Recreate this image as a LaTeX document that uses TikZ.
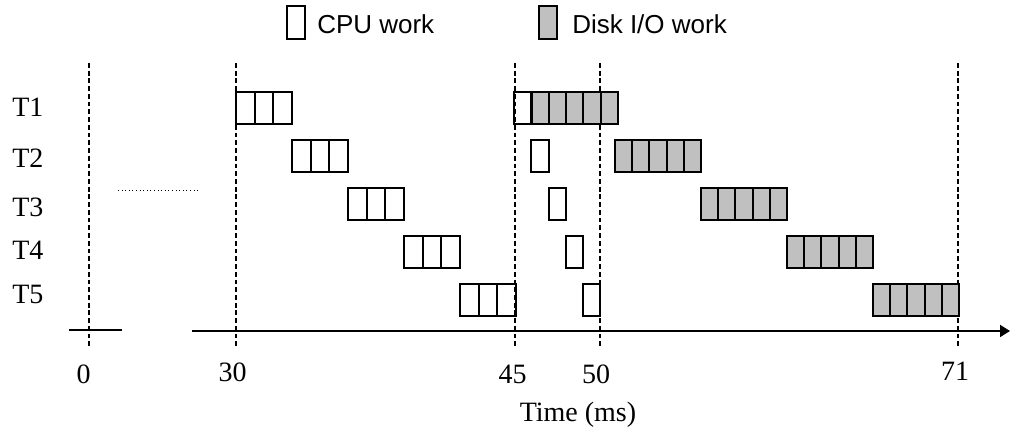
\documentclass[tikz,border=0pt]{standalone}
\usepackage{fontspec}
\setmainfont{Liberation Serif}
\newfontfamily\keyfont{Liberation Sans}
\usetikzlibrary{arrows.meta}
\definecolor{diskgray}{RGB}{192,192,192}

\tikzstyle{cpubox} = [draw, line width = 1.5pt, minimum width = 14pt, minimum height = 24.4pt, inner sep = 0pt, outer sep = 0pt, anchor = west]
\tikzstyle{diskbox} = [cpubox, fill = diskgray, minimum width = 12.9pt]
\tikzstyle{timeline} = [line width = 1.2pt, dash pattern = on 3.6pt off 2.2pt]
\tikzstyle{lbl} = [inner sep = 0pt, font = \fontsize{21}{25}\selectfont]
\tikzstyle{keylbl} = [inner sep = 0pt, anchor = west, font = \keyfont\fontsize{19.5}{23}\selectfont]

\begin{document}
\begin{tikzpicture}[x = 0.75pt, y = -0.75pt]
		\useasboundingbox (0, 0) rectangle (1010, 435);

		% legend
		\node [cpubox, anchor = center, minimum width = 13.5pt, minimum height = 24.8pt] at (296, 22.5) (keycpu) {};
		\node [keylbl] at (317, 24) (keycputxt) {CPU work};
		\node [diskbox, anchor = center, minimum width = 13.5pt, minimum height = 24.8pt] at (548, 22.5) (keydisk) {};
		\node [keylbl] at (572, 24) (keydisktxt) {Disk I/O work};

		% task labels
		\foreach \n/\ly in {1/107, 2/158, 3/207, 4/250, 5/294}
			\node [lbl, anchor = west] at (12, \ly) (t\n) {T\n};

		% time marks
		\foreach \nm/\vx in {0/89, 30/236, 45/515, 50/600, 71/958} {
			\coordinate (top\nm) at (\vx, 63);
			\coordinate (bot\nm) at (\vx, 347);
			\draw [timeline] (top\nm) -- (bot\nm);
		}
		\foreach \nm/\lx/\by in {0/83.5/383, 30/232.5/381, 45/512.5/383, 50/596/383, 71/955/380}
			\node [lbl, anchor = base] at (\lx, \by) (n\nm) {\nm};
		\node [lbl, anchor = base] at (578, 421) (tlabel) {Time (ms)};

		% work blocks
		\foreach \i in {0,...,4} {
			\pgfmathsetmacro{\rowy}{108 + 48*\i}
			\pgfmathsetmacro{\cpux}{236 + 56*\i}
			\pgfmathsetmacro{\onex}{514 + 17.3*\i}
			\pgfmathsetmacro{\dskx}{\i == 0 ? 531.7 : 615 + 86*(\i - 1)}
			\foreach \j in {0,1,2}
				\node [cpubox] at (\cpux + 18.7*\j, \rowy) (c\i\j) {};
			\node [cpubox, minimum width = 12.9pt] at (\onex, \rowy) (s\i) {};
			\foreach \k in {0,...,4}
				\node [diskbox] at (\dskx + 17.2*\k, \rowy) (d\i\k) {};
		}

		% axis
		\coordinate (ax0) at (69, 330);
		\coordinate (ax1) at (122, 330);
		\coordinate (ax2) at (192, 331);
		\coordinate (ax3) at (1010, 331);
		\draw [line width = 1.3pt] (ax0) -- (ax1);
		\draw [-{Triangle[length = 7.5pt, width = 9pt]}, line width = 1.3pt] (ax2) -- (ax3);

		\coordinate (gap0) at (118, 190);
		\coordinate (gap1) at (199, 190);
		\draw [dotted, line width = 0.7pt] (gap0) -- (gap1);
	\end{tikzpicture}
\end{document}
